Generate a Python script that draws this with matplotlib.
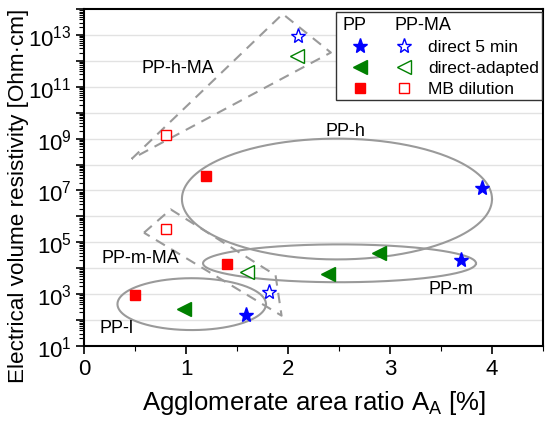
import numpy as np
import matplotlib
matplotlib.use("Agg")
import matplotlib.pyplot as plt
from matplotlib.ticker import LogLocator, FuncFormatter, MultipleLocator, NullFormatter
from matplotlib.patches import Rectangle

plt.rcParams['font.family'] = ['Liberation Sans', 'DejaVu Sans']
plt.rcParams['mathtext.fontset'] = 'custom'
plt.rcParams['mathtext.rm'] = 'Liberation Sans'
plt.rcParams['mathtext.default'] = 'regular'

# ---- data ----
pp_direct_x = [1.59, 3.70, 3.90]
pp_direct_y = [155, 2.0e4, 1.2e7]
pp_adapted_x = [0.98, 2.39, 2.89]
pp_adapted_y = [263, 5.9e3, 3.8e4]
pp_mb_x = [0.50, 1.20, 1.40]
pp_mb_y = [910, 3.5e7, 1.5e4]

ma_direct_x = [1.81, 2.10]
ma_direct_y = [1.17e3, 9.1e12]
ma_adapted_x = [1.595, 2.09]
ma_adapted_y = [7.4e3, 1.55e12]
ma_mb_x = [0.80, 0.80]
ma_mb_y = [3.4e5, 1.4e9]

# group ellipses: (center x, half-width, center log10 y, half-height in decades)
ellipses = {
    'PP-h': (2.48, 1.52, 6.67, 2.33),
    'PP-m': (2.505, 1.338, 4.19, 0.73),
    'PP-l': (1.056, 0.728, 2.615, 1.0),
}
# dashed regions (x, log10 y)
region_h_ma_x = [0.468, 1.948, 2.42, 0.468]
region_h_ma_ly = [8.22, 13.81, 12.32, 8.22]
region_m_ma_x = [0.588, 0.85, 1.878, 1.937, 0.588]
region_m_ma_ly = [5.37, 6.27, 3.73, 2.17, 5.37]

labels = [('PP-h-MA', 0.92, 11.73), ('PP-h', 2.56, 9.31), ('PP-m', 3.60, 3.23),
          ('PP-m-MA', 0.55, 4.42), ('PP-l', 0.32, 1.73)]

xticks = [0, 1, 2, 3, 4]

blue = '#0000FF'
green = '#008000'
red = '#FF0000'
grey = '#9a9a9a'

fig = plt.figure(figsize=(5.5, 4.27), dpi=100)
ax = fig.add_axes([84/550, (427-347)/427, 459/550, 337/427])
ax.set_yscale('log')
ax.set_xlim(0, 4.5)
ax.set_ylim(1e1, 1e14)

# grid at decades
for e in range(2, 14):
    ax.axhline(10.0**e, color='#e2e2e2', lw=1.0, zorder=0)

t = np.linspace(0, 2*np.pi, 300)
for name, (cx, a, cy, b) in ellipses.items():
    ax.plot(cx + a*np.cos(t), 10**(cy + b*np.sin(t)), color=grey, lw=1.5, zorder=2)

for xs, lys in [(region_h_ma_x, region_h_ma_ly), (region_m_ma_x, region_m_ma_ly)]:
    ax.plot(xs, 10**np.array(lys), color=grey, lw=1.5, ls=(0, (5, 3.5)), zorder=2)

for txt, x, ly in labels:
    ax.text(x, 10**ly, txt, fontsize=13, ha='center', va='center', zorder=3)

ms_star = 11
ms_tri = 9.5
ms_sq = 7.5
ax.plot(pp_direct_x, pp_direct_y, ls='none', marker='*', ms=ms_star, color=blue, mec=blue, zorder=4)
ax.plot(pp_adapted_x, pp_adapted_y, ls='none', marker='<', ms=ms_tri, color=green, mec=green, zorder=4)
ax.plot(pp_mb_x, pp_mb_y, ls='none', marker='s', ms=ms_sq, color=red, mec=red, zorder=4)
ax.plot(ma_direct_x, ma_direct_y, ls='none', marker='*', ms=ms_star, mfc='white', mec=blue, mew=1.0, zorder=4)
ax.plot(ma_adapted_x, ma_adapted_y, ls='none', marker='<', ms=ms_tri, mfc='white', mec=green, mew=1.0, zorder=4)
ax.plot(ma_mb_x, ma_mb_y, ls='none', marker='s', ms=ms_sq, mfc='white', mec=red, mew=1.0, zorder=4)

# legend (manual layout)
lx0, lx1, ly0, ly1 = 0.549, 0.997, 0.731, 0.992
ax.add_patch(Rectangle((lx0, ly0), lx1-lx0, ly1-ly0, transform=ax.transAxes,
                       facecolor='white', edgecolor='#333333', lw=1.0, zorder=5))
def axx(px):
    return (px - 84) / 459
def axy(py):
    return (347 - py) / 337
ax.text(axx(342), axy(26), 'PP', transform=ax.transAxes, fontsize=13, va='center', ha='left', zorder=6)
ax.text(axx(394), axy(26), 'PP-MA', transform=ax.transAxes, fontsize=13, va='center', ha='left', zorder=6)
rows = [('direct 5 min', '*', blue, ms_star, 47),
        ('direct-adapted', '<', green, ms_tri, 68),
        ('MB dilution', 's', red, ms_sq, 89)]
for lab, m, c, ms, py in rows:
    ax.plot([axx(360)], [axy(py)], transform=ax.transAxes, marker=m, ms=ms, color=c, mec=c,
            ls='none', clip_on=False, zorder=6)
    ax.plot([axx(404)], [axy(py)], transform=ax.transAxes, marker=m, ms=ms, mfc='white', mec=c,
            mew=1.0, ls='none', clip_on=False, zorder=6)
    ax.text(axx(428), axy(py), lab, transform=ax.transAxes, fontsize=12.5, va='center', ha='left', zorder=6)

# ticks
ax.set_xticks(xticks)
ax.xaxis.set_minor_locator(MultipleLocator(0.5))
ax.yaxis.set_major_locator(LogLocator(base=10, numticks=30))
ax.yaxis.set_minor_locator(LogLocator(base=10, subs=np.arange(2, 10), numticks=30))
ax.yaxis.set_minor_formatter(NullFormatter())
def yfmt(v, pos):
    e = int(round(np.log10(v)))
    return r'$10^{%d}$' % e if e % 2 == 1 else ''
ax.yaxis.set_major_formatter(FuncFormatter(yfmt))
ax.tick_params(axis='both', which='major', direction='out', length=6, width=1.2, labelsize=16,
               top=False, right=False, pad=3)
ax.tick_params(axis='both', which='minor', direction='out', length=3.5, width=0.8, top=False, right=False)
for s in ax.spines.values():
    s.set_linewidth(1.5)

ax.set_xlabel(r'Agglomerate area ratio A$_{A}$ [%]', fontsize=18.5, labelpad=6)
ax.set_ylabel('Electrical volume resistivity [Ohm·cm]', fontsize=16.2)
ax.yaxis.set_label_coords(-(84-29)/459, (347-196)/337)

fig.savefig('out.png', dpi=100)
